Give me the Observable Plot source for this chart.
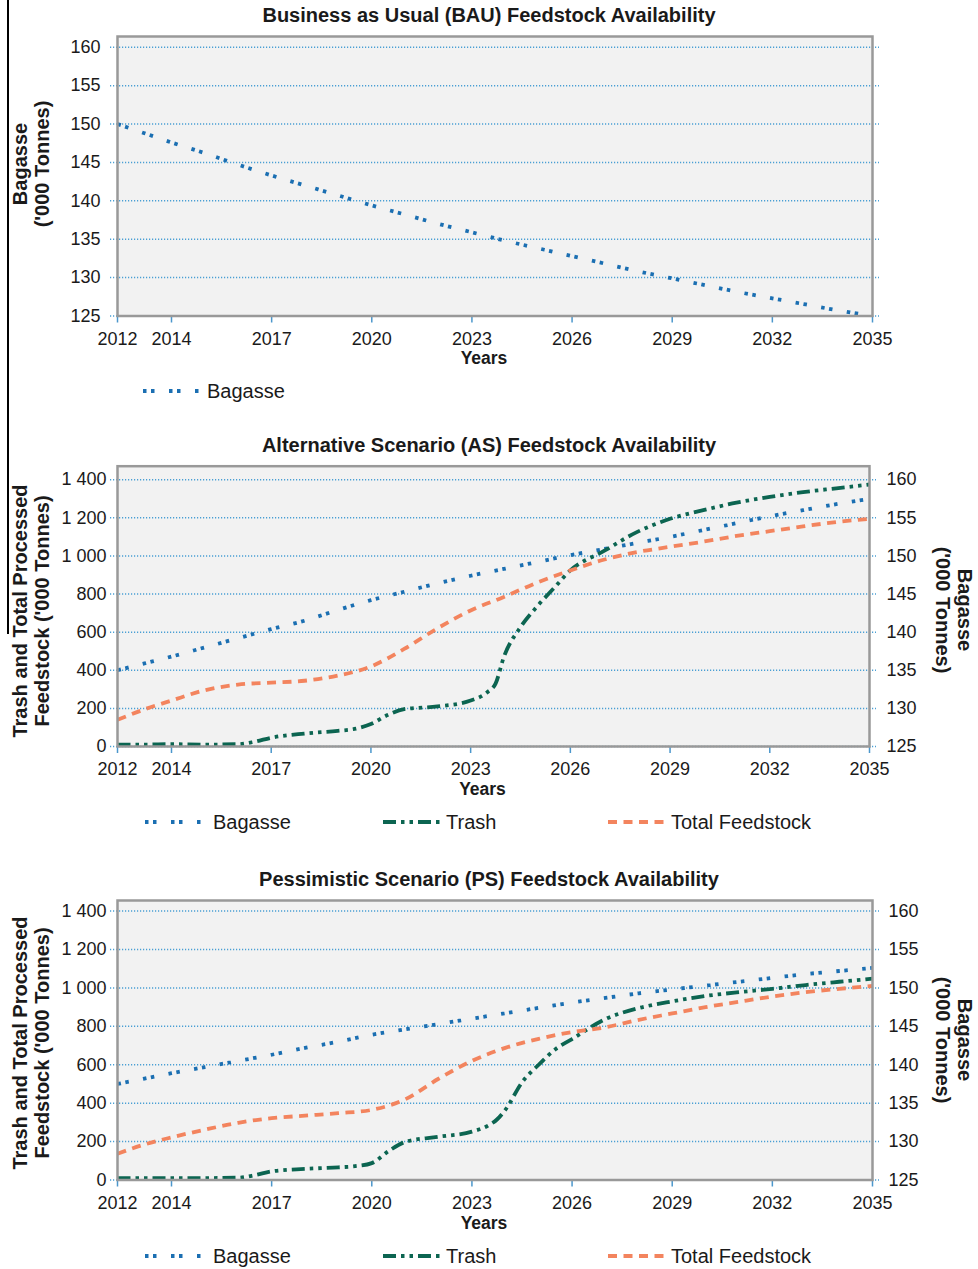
<!DOCTYPE html>
<html>
<head>
<meta charset="utf-8">
<script src="https://cdn.jsdelivr.net/npm/d3@7"></script>
<script src="https://cdn.jsdelivr.net/npm/@observablehq/plot@0.6"></script>
<style>
  body { margin: 0; background: #fff; font-family: "Liberation Sans", Arial, sans-serif; color: #1a1a1a; }
  #root { position: relative; width: 978px; height: 1269px; overflow: hidden; }
  .abs { position: absolute; }
  .title { left: 0; width: 978px; height: 30px; line-height: 30px; text-align: center; font-weight: bold; font-size: 20px; }
  .ytitle { font-weight: bold; font-size: 20px; line-height: 22px; white-space: nowrap; text-align: center; transform: translate(-50%, -50%) rotate(-90deg); }
  .ytitle.r { transform: translate(-50%, -50%) rotate(90deg); }
  .leg { height: 26px; line-height: 26px; font-size: 20px; white-space: nowrap; }
  .leg svg { position: absolute; top: 0; }
  .edge { left: 7px; top: 0; width: 1.5px; height: 634px; background: #000; }
</style>
</head>
<body>
<div id="root"></div>
<script>
// ---------------- data ----------------
const years = [2012, 2013, 2014, 2015, 2016, 2017, 2018, 2019, 2020, 2021, 2022, 2023,
               2024, 2025, 2026, 2027, 2028, 2029, 2030, 2031, 2032, 2033, 2034, 2035];
const trashYears = [2012, 2013, 2014, 2015, 2016, 2016.5, 2017, 2018, 2019, 2019.5, 2020, 2020.5,
                    2021, 2022, 2023, 2023.5, 2023.75, 2024, 2024.5, 2025, 2025.5, 2026,
                    2027, 2028, 2029, 2030, 2031, 2032, 2033, 2034, 2035];

// Business as Usual ('000 t)
const bauBagasse = [150, 148.8, 147.6, 146.2, 144.7, 143.3, 142.0, 140.7, 139.4, 138.2, 137.0, 135.9,
                    134.8, 133.8, 132.8, 131.8, 130.8, 129.9, 129.0, 128.1, 127.3, 126.5, 125.7, 125.0];

// Alternative Scenario
const asBagasse = [135.0, 135.9, 136.8, 138.0, 139.2, 140.4, 141.5, 142.9, 144.2, 145.3, 146.4, 147.4,
                   148.3, 149.2, 150.1, 150.9, 151.7, 152.5, 153.4, 154.3, 155.2, 156.0, 156.8, 157.5];
const asTotal = [140, 195, 241, 295, 325, 335, 345, 372, 420, 512, 620, 714,
                 785, 860, 924, 980, 1020, 1048, 1075, 1105, 1130, 1155, 1178, 1195];
const asTrash = [10, 10, 12, 10, 12, 25, 46, 68, 82, 92, 118, 165,
                 196, 210, 241, 285, 330, 470, 626, 735, 830, 924,
                 1025, 1125, 1195, 1240, 1280, 1310, 1335, 1355, 1375];

// Pessimistic Scenario
const psBagasse = [137.5, 138.2, 138.9, 139.7, 140.5, 141.3, 142.2, 143.0, 143.9, 144.6, 145.3, 146.0,
                   146.7, 147.4, 148.1, 148.7, 149.3, 149.8, 150.3, 150.8, 151.3, 151.8, 152.2, 152.6];
const psTotal = [137, 185, 222, 262, 298, 322, 335, 348, 365, 420, 527, 620,
                 688, 735, 770, 795, 834, 867, 900, 928, 955, 978, 995, 1010];
const psTrash = [10, 10, 10, 10, 12, 25, 45, 58, 66, 72, 88, 150,
                 198, 225, 252, 285, 315, 365, 508, 600, 681, 734,
                 838, 895, 930, 958, 978, 995, 1015, 1032, 1048];

// ticks & labels
const xTickYears = [2012, 2014, 2017, 2020, 2023, 2026, 2029, 2032, 2035];
const bauTicks = [125, 130, 135, 140, 145, 150, 155, 160];
const leftTicks = [0, 200, 400, 600, 800, 1000, 1200, 1400];
const rightTicks = [125, 130, 135, 140, 145, 150, 155, 160];

const titles = [
  "Business as Usual (BAU) Feedstock Availability",
  "Alternative Scenario (AS) Feedstock Availability",
  "Pessimistic Scenario (PS) Feedstock Availability"
];
const seriesNames = ["Bagasse", "Trash", "Total Feedstock"];

// ---------------- styles ----------------
const C = { bagasse: "#1b6fb2", trash: "#0c6551", total: "#f3845e" };
const DASH = { bagasse: "3.5,4.5,3.5,14.5", trash: "13,5,3.5,5,3.5,5", total: "9,6.5" };
const gridColor = "#4a9fd4";
const fontFamily = "'Liberation Sans', Arial, sans-serif";
const tickFont = 18;

const root = document.getElementById("root");
function addDiv(cls, style, html) {
  const d = document.createElement("div");
  d.className = "abs " + cls;
  Object.assign(d.style, style);
  d.innerHTML = html;
  root.appendChild(d);
  return d;
}

const rightToLeft = b => (b - 125) * 40;           // bagasse ('000 t) -> left-axis units
const fmtThousands = t => d3.format(",")(t).replace(/,/g, " ");
const rightLabel = t => String(rightTicks[leftTicks.indexOf(t)]);

function panel(cfg) {
  const W = 978;
  const marks = [
    Plot.frame({ fill: "#f2f2f2", stroke: null }),
    Plot.gridY(cfg.ticks, { stroke: gridColor, strokeOpacity: 1, strokeWidth: 1.5, strokeDasharray: "1.2,1.8",
                            insetLeft: -7, insetRight: -7 }),
    Plot.axisY(cfg.ticks, { anchor: "left", tickSize: 0, tickPadding: cfg.leftPad, label: null,
                            tickFormat: cfg.leftFormat, fontSize: tickFont, fill: "#1a1a1a" }),
    Plot.axisX(xTickYears, { anchor: "bottom", tickSize: 7, tickPadding: 9, label: null,
                             stroke: "#4b97cc", strokeWidth: 1.5, tickFormat: d => String(d),
                             fontSize: tickFont, fill: "#1a1a1a" })
  ];
  if (cfg.right) {
    marks.push(Plot.axisY(cfg.ticks, { anchor: "right", tickSize: 0, tickPadding: cfg.rightPad, label: null,
                                       tickFormat: rightLabel, fontSize: tickFont, fill: "#1a1a1a" }));
  }
  for (const s of cfg.series) {
    marks.push(Plot.line(s.x.map((x, i) => ({ x, y: s.y[i] })), {
      x: "x", y: "y", stroke: C[s.key], strokeWidth: 3.8, strokeDasharray: DASH[s.key],
      strokeLinecap: "butt", curve: "monotone-x"
    }));
  }
  marks.push(Plot.frame({ stroke: "#999999", strokeWidth: 2.5 }));
  marks.push(Plot.text(["Years"], { frameAnchor: "bottom", lineAnchor: "middle", dy: cfg.yearsDy, dx: -11,
                                    fontWeight: "bold", fontSize: 17.5, fill: "#1a1a1a" }));

  const svg = Plot.plot({
    width: W, height: cfg.height,
    marginLeft: 117, marginRight: W - cfg.frameRight,
    marginTop: cfg.marginTop, marginBottom: cfg.marginBottom,
    style: { fontFamily, fontSize: tickFont + "px", background: "transparent", overflow: "visible", color: "#1a1a1a" },
    x: { type: "linear", domain: [2012, 2014, 2035], range: [117, 171, cfg.frameRight] },
    y: { domain: cfg.yDomain },
    marks
  });
  const holder = addDiv("", { left: "0px", top: cfg.top + "px", width: W + "px", height: cfg.height + "px" }, "");
  holder.appendChild(svg);
}

function legendItem(top, sampleLeft, sampleRight, textLeft, key, name) {
  const w = sampleRight - sampleLeft;
  addDiv("leg", { left: sampleLeft + "px", top: top + "px", width: (textLeft - sampleLeft + 200) + "px" },
    `<svg width="${w}" height="26" style="left:0"><line x1="0" x2="${w}" y1="13" y2="13" stroke="${C[key]}"
      stroke-width="4" stroke-dasharray="${DASH[key]}"/></svg>` +
    `<span style="position:absolute;left:${textLeft - sampleLeft}px">${name}</span>`);
}

// left edge rule (scan border)
addDiv("edge", {}, "");

// ---------------- Panel 1: BAU ----------------
addDiv("title", { top: "0px" }, titles[0]);
panel({
  top: 30, height: 342, marginTop: 6, marginBottom: 56.5, frameRight: 872,
  yDomain: [125, 161.4], ticks: bauTicks, leftPad: 17, leftFormat: t => String(t),
  right: false, yearsDy: 42.5,
  series: [{ key: "bagasse", x: years, y: bauBagasse }]
});
addDiv("ytitle", { left: "31px", top: "164px" }, "Bagasse<br>('000 Tonnes)");
legendItem(378, 143, 201, 207, "bagasse", seriesNames[0]);

// ---------------- Panel 2: AS ----------------
addDiv("title", { top: "430px" }, titles[1]);
panel({
  top: 460, height: 340, marginTop: 5.7, marginBottom: 54, frameRight: 869,
  yDomain: [0, 1471], ticks: leftTicks, leftPad: 11, rightPad: 17, leftFormat: fmtThousands,
  right: true, yearsDy: 43,
  series: [
    { key: "bagasse", x: years, y: asBagasse.map(rightToLeft) },
    { key: "trash", x: trashYears, y: asTrash },
    { key: "total", x: years, y: asTotal }
  ]
});
addDiv("ytitle", { left: "31px", top: "611px" }, "Trash and Total Processed<br>Feedstock ('000 Tonnes)");
addDiv("ytitle r", { left: "954px", top: "610px" }, "Bagasse<br>('000 Tonnes)");
legendItem(809, 145, 203, 213, "bagasse", seriesNames[0]);
legendItem(809, 383, 440, 446, "trash", seriesNames[1]);
legendItem(809, 608, 667, 671, "total", seriesNames[2]);

// ---------------- Panel 3: PS ----------------
addDiv("title", { top: "864px" }, titles[2]);
panel({
  top: 894, height: 340, marginTop: 6, marginBottom: 54.5, frameRight: 872,
  yDomain: [0, 1455], ticks: leftTicks, leftPad: 11, rightPad: 16, leftFormat: fmtThousands,
  right: true, yearsDy: 43.5,
  series: [
    { key: "bagasse", x: years, y: psBagasse.map(rightToLeft) },
    { key: "trash", x: trashYears, y: psTrash },
    { key: "total", x: years, y: psTotal }
  ]
});
addDiv("ytitle", { left: "31px", top: "1043px" }, "Trash and Total Processed<br>Feedstock ('000 Tonnes)");
addDiv("ytitle r", { left: "954px", top: "1040px" }, "Bagasse<br>('000 Tonnes)");
legendItem(1243, 145, 203, 213, "bagasse", seriesNames[0]);
legendItem(1243, 383, 440, 446, "trash", seriesNames[1]);
legendItem(1243, 608, 667, 671, "total", seriesNames[2]);
</script>
</body>
</html>
